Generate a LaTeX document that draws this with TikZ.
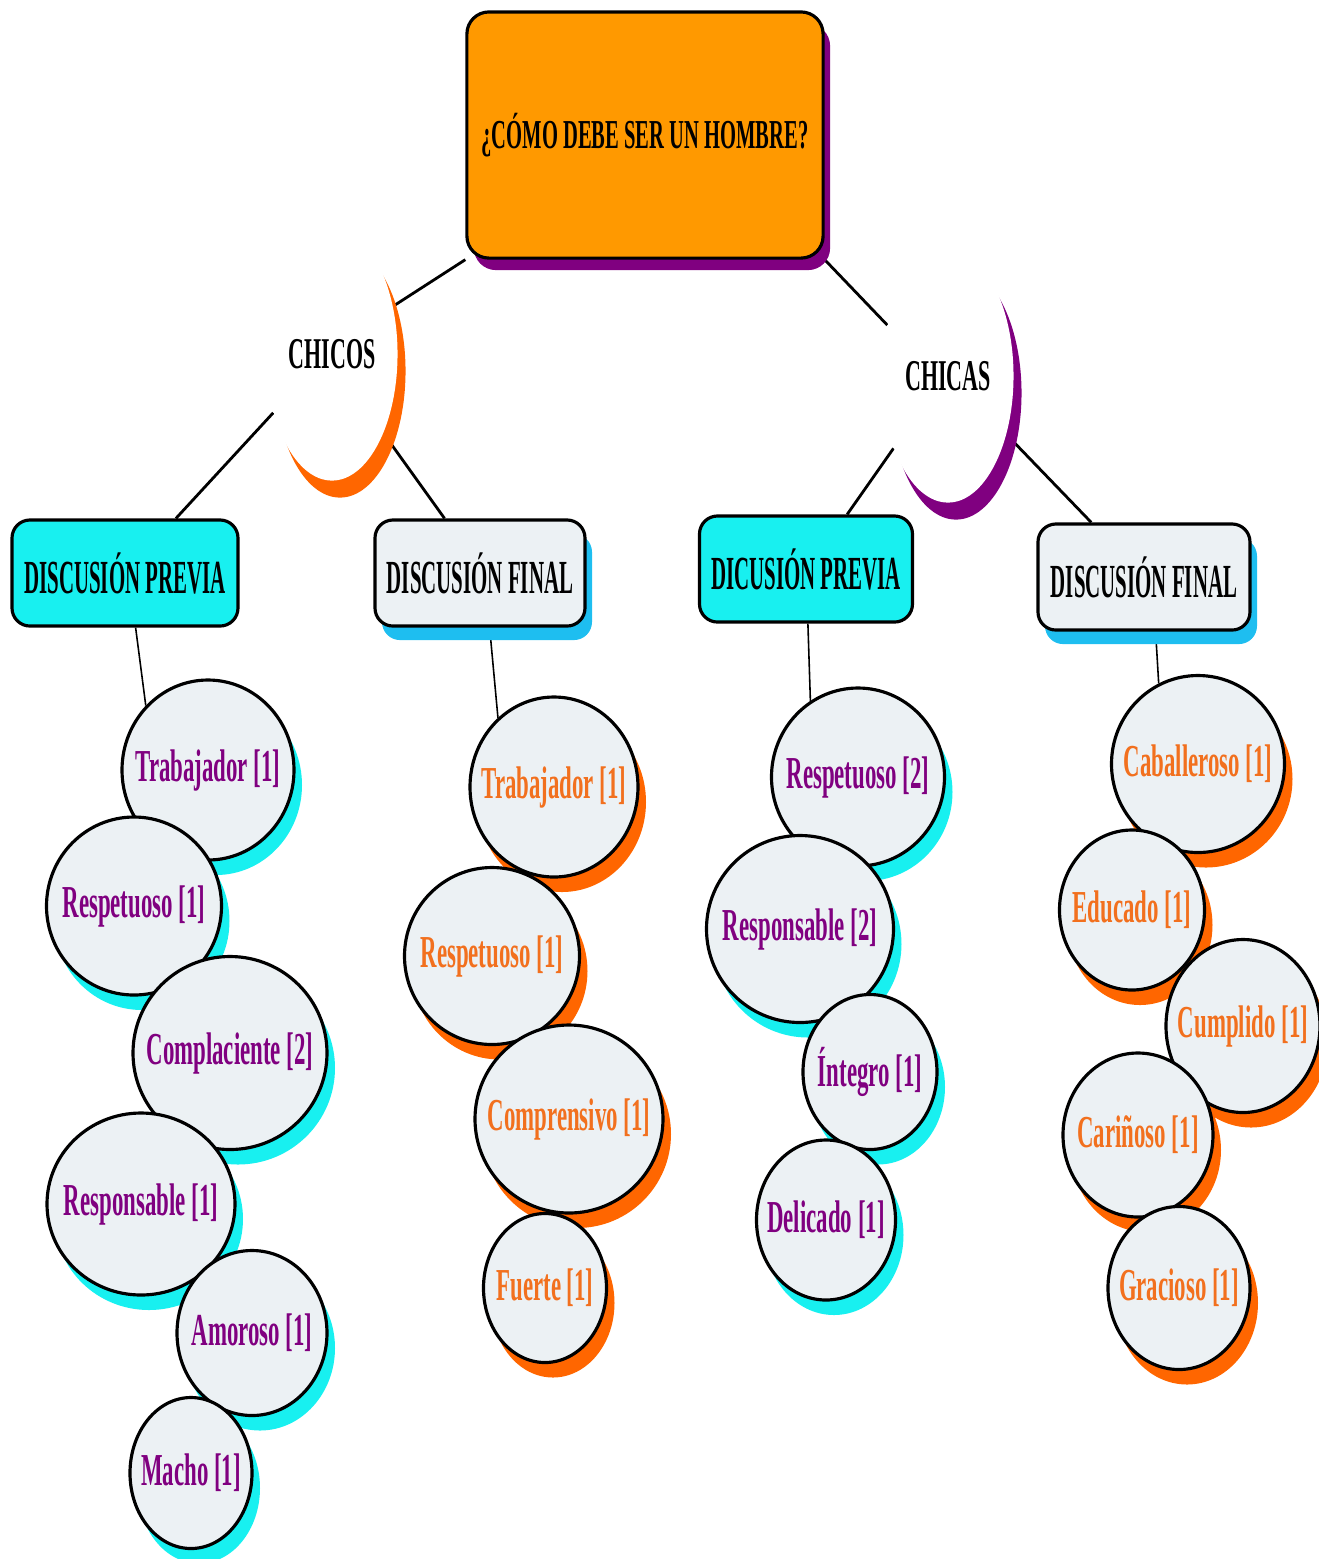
\documentclass[tikz,border=0pt]{standalone}
\usepackage{fontspec}
\setmainfont{Liberation Serif}[FakeStretch=0.5]
\newfontfamily\boxfont{Liberation Serif}[FakeStretch=0.44]
\usetikzlibrary{shapes.geometric,shadows,backgrounds}

\definecolor{topOrange}{RGB}{255,153,0}
\definecolor{deepPurple}{RGB}{128,0,128}
\definecolor{shOrange}{RGB}{255,102,0}
\definecolor{txtOrange}{RGB}{242,112,30}
\definecolor{boxCyan}{RGB}{24,240,240}
\definecolor{shBlue}{RGB}{30,190,240}
\definecolor{paleGrey}{RGB}{236,241,244}

\newcommand\zw[1]{\makebox[0pt]{#1}}

\tikzset{
  headbox/.style={draw, line width=0.9pt, rounded corners=0.22cm, fill=topOrange,
    minimum width=3.56cm, minimum height=2.46cm, inner sep=0pt,
    font=\bfseries\fontsize{11.7}{13}\selectfont,
    drop shadow={fill=deepPurple, opacity=1, shadow xshift=0.07cm, shadow yshift=-0.12cm}},
  groupnode/.style={ellipse, fill=white, minimum width=1.31cm, minimum height=2.53cm, inner sep=0pt,
    font=\bfseries\fontsize{12.5}{14}\selectfont,
    drop shadow={fill=#1, opacity=1, shadow xshift=0.08cm, shadow yshift=-0.17cm}},
  prevbox/.style={draw, line width=0.9pt, rounded corners=0.18cm, fill=boxCyan,
    minimum width=#1*0.01cm, minimum height=1.06cm, inner sep=0pt,
    font=\boxfont\bfseries\fontsize{13.5}{15}\selectfont},
  finbox/.style={prevbox=#1, fill=paleGrey,
    drop shadow={fill=shBlue, opacity=1, shadow xshift=0.07cm, shadow yshift=-0.14cm}},
  bub/.style 2 args={ellipse, draw, line width=0.9pt, fill=paleGrey, inner sep=0pt,
    font=\bfseries\fontsize{13}{15}\selectfont, text=#2,
    drop shadow={fill=#1, opacity=1, shadow xshift=0.08cm, shadow yshift=-0.15cm}},
  link/.style={line width=0.8pt},
  thinlink/.style={line width=0.45pt}
}

\begin{document}
\begin{tikzpicture}[x=0.01cm, y=-0.01cm]
\useasboundingbox (0,0) rectangle (1319,1559);

% title and the two groups
\node[headbox] (top) at (645,135) {¿CÓMO DEBE SER UN HOMBRE?};
\node[groupnode=shOrange] (chicos) at (332,354) {\zw{CHICOS}};
\node[groupnode=deepPurple] (chicas) at (948,376) {\zw{CHICAS}};

% discussion boxes
\node[prevbox=226] (pa1) at (125,573) {DISCUSIÓN PREVIA};
\node[finbox=210] (pf1) at (480,573) {DISCUSIÓN FINAL};
\node[prevbox=213] (pa2) at (806,569) {DICUSIÓN PREVIA};
\node[finbox=212] (pf2) at (1144,577) {DISCUSIÓN FINAL};

% bubbles: name/x/y/width/height/text
\foreach \nm/\x/\y/\w/\h/\txt in {c1/208/770/172/180/Trabajador [1],c2/134/906/175/178/Respetuoso [1],c3/230/1053/194/193/Complaciente [2],c4/141/1204/188/182/Responsable [1],c5/252/1333/150/165/Amoroso [1],c6/191/1473/122/151/Macho [1]}
  \node[bub={boxCyan}{deepPurple}, minimum width=\w*0.01cm, minimum height=\h*0.01cm] (\nm) at (\x,\y) {\zw{\txt}};
\foreach \nm/\x/\y/\w/\h/\txt in {d1/554/787/168/180/Trabajador [1],d2/492/956/175/177/Respetuoso [1],d3/569/1119/188/188/Comprensivo [1],d4/545/1288/123/149/Fuerte [1]}
  \node[bub={shOrange}{txtOrange}, minimum width=\w*0.01cm, minimum height=\h*0.01cm] (\nm) at (\x,\y) {\zw{\txt}};
\foreach \nm/\x/\y/\w/\h/\txt in {e1/858/777/173/178/Respetuoso [2],e2/800/929/187/187/Responsable [2],e3/870/1072/134/155/Íntegro [1],e4/826/1220/139/160/Delicado [1]}
  \node[bub={boxCyan}{deepPurple}, minimum width=\w*0.01cm, minimum height=\h*0.01cm] (\nm) at (\x,\y) {\zw{\txt}};
\foreach \nm/\x/\y/\w/\h/\txt in {f1/1198/764/173/177/Caballeroso [1],f2/1132/910/145/160/Educado [1],f3/1243/1026/154/173/Cumplido [1],f4/1138/1135/150/164/Cariñoso [1],f5/1179/1288/142/163/Gracioso [1]}
  \node[bub={shOrange}{txtOrange}, minimum width=\w*0.01cm, minimum height=\h*0.01cm] (\nm) at (\x,\y) {\zw{\txt}};

% connectors behind everything
\begin{scope}[on background layer]
\draw[link] (top.south west) -- (chicos.38);
\draw[link] (top.south east) -- (chicas.140);
\draw[link] (chicos.225) -- (pa1.47);
\draw[link] (chicos.303) -- (pf1.123);
\draw[link] (chicas.233) -- (pa2.53);
\draw[link] (chicas.315) -- (pf2.134);
\draw[thinlink] (pa1.281) -- (c1.134);
\draw[thinlink] (pf1.280) -- (d1.129);
\draw[thinlink] (pa2.272) -- (e1.122);
\draw[thinlink] (pf2.282) -- (f1.116);
\end{scope}
\end{tikzpicture}
\end{document}
